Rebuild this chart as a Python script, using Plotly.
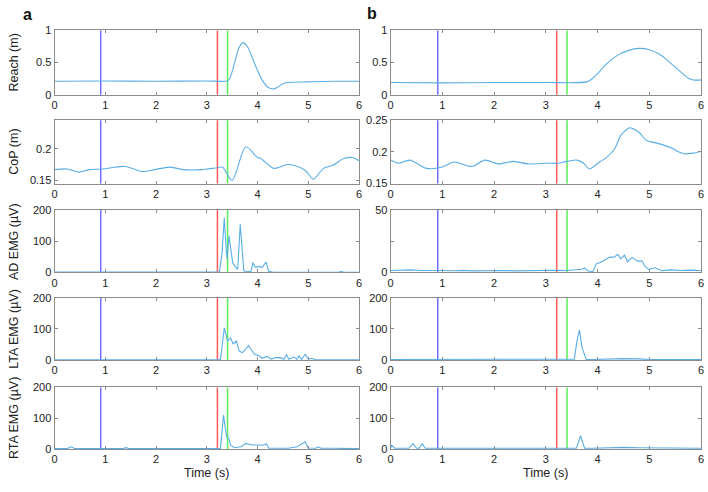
import plotly.graph_objects as go

# ---------------- data ----------------
event_times = [0.91, 3.21, 3.41]
event_colors = ["#6f6fff", "#ff5a5a", "#5aef5a"]

reach_a_t = [0, 1, 2, 3, 3.4, 3.45, 3.55, 3.63, 3.71, 3.8, 3.9, 4.0, 4.1, 4.2, 4.31, 4.4, 4.5, 4.6, 5.0, 5.5, 6.0]
reach_a_v = [0.21, 0.215, 0.21, 0.215, 0.215, 0.25, 0.5, 0.72, 0.81, 0.75, 0.57, 0.38, 0.22, 0.12, 0.09, 0.12, 0.17, 0.19, 0.2, 0.21, 0.21]
reach_b_t = [0, 1, 2, 3, 3.79, 3.9, 4.0, 4.2, 4.4, 4.6, 4.8, 5.0, 5.2, 5.4, 5.6, 5.75, 5.85, 5.93, 6.0]
reach_b_v = [0.19, 0.185, 0.19, 0.19, 0.2, 0.25, 0.33, 0.5, 0.62, 0.69, 0.72, 0.70, 0.63, 0.5, 0.36, 0.26, 0.23, 0.228, 0.232]

cop_a_t = [0, 0.25, 0.48, 0.68, 0.94, 1.39, 1.72, 1.98, 2.27, 2.53, 2.89, 3.22, 3.31, 3.5, 3.77, 4.0, 4.06, 4.32, 4.58, 4.71, 4.94, 5.1, 5.3, 5.49, 5.69, 5.88, 6.0]
cop_a_v = [0.167, 0.168, 0.163, 0.167, 0.168, 0.172, 0.164, 0.167, 0.171, 0.167, 0.167, 0.170, 0.171, 0.150, 0.203, 0.186, 0.185, 0.169, 0.175, 0.174, 0.166, 0.152, 0.169, 0.174, 0.184, 0.186, 0.181]
cop_b_t = [0, 0.15, 0.37, 0.69, 1.0, 1.22, 1.57, 1.82, 2.08, 2.36, 2.65, 3.03, 3.22, 3.41, 3.6, 3.73, 3.84, 4.04, 4.17, 4.33, 4.45, 4.61, 4.67, 4.8, 4.95, 5.18, 5.43, 5.56, 5.68, 5.85, 6.0]
cop_b_v = [0.187, 0.182, 0.187, 0.174, 0.176, 0.184, 0.177, 0.187, 0.181, 0.185, 0.181, 0.182, 0.182, 0.185, 0.187, 0.182, 0.173, 0.184, 0.191, 0.205, 0.226, 0.238, 0.237, 0.231, 0.218, 0.213, 0.206, 0.200, 0.197, 0.198, 0.201]

ad_a_t = [0, 0.5, 1.0, 1.5, 2.0, 2.5, 3.0, 3.25, 3.3, 3.345, 3.38, 3.4, 3.44, 3.48, 3.51, 3.57, 3.61, 3.66, 3.7, 3.73, 3.8, 3.87, 3.91, 3.96, 4.03, 4.09, 4.17, 4.22, 4.3, 4.6, 5.0, 5.5, 5.6, 5.65, 5.7, 6.0]
ad_a_v = [1, 1, 1, 1, 1, 1, 1, 1, 60, 175, 80, 44, 117, 60, 31, 16, 10, 154, 60, 5, 2, 3, 31, 16, 19, 16, 33, 3, 1, 0.5, 0.5, 0.5, 0.5, 3, 0.5, 0.5]
ad_b_t = [0, 0.2, 0.4, 0.6, 0.8, 1.0, 1.2, 1.4, 1.6, 1.8, 2.0, 2.2, 2.4, 2.6, 2.8, 3.0, 3.2, 3.4, 3.6, 3.7, 3.75, 3.8, 3.91, 3.97, 4.04, 4.13, 4.23, 4.33, 4.39, 4.45, 4.52, 4.58, 4.67, 4.77, 4.86, 4.92, 4.99, 5.11, 5.24, 5.4, 5.6, 5.8, 6.0]
ad_b_v = [1.5, 1.8, 2, 1.5, 1.2, 1.5, 1.3, 1.6, 1.2, 1.5, 1.3, 1.5, 1.2, 1.4, 1.3, 1.5, 1.7, 1.5, 1.8, 2.5, 3.5, 1.5, 0.3, 6.6, 7.7, 10, 12, 12.4, 14.5, 11, 13.7, 8.5, 12, 9, 9, 4.5, 2.4, 3.7, 1.3, 2, 1.5, 1.8, 1.5]

lta_a_t = [0, 0.5, 1, 1.5, 2, 2.5, 3, 3.27, 3.345, 3.41, 3.47, 3.52, 3.58, 3.64, 3.7, 3.77, 3.82, 3.88, 3.94, 4.03, 4.09, 4.19, 4.27, 4.35, 4.45, 4.52, 4.57, 4.62, 4.71, 4.78, 4.82, 4.87, 4.94, 5.0, 5.07, 5.14, 5.3, 5.45, 5.5, 5.65, 5.7, 6.0]
lta_a_v = [1, 1, 1, 1, 1, 1, 1, 1, 103, 61, 71, 52, 61, 29, 24, 35, 47, 31, 19, 14, 6, 12, 3, 8, 8, 3, 17, 3, 10, 3, 14, 1, 19, 3, 6, 1, 1, 3, 1, 3, 1, 1]
lta_b_t = [0, 0.5, 1, 1.5, 2, 2.5, 3, 3.5, 3.55, 3.6, 3.65, 3.7, 3.75, 3.78, 3.9, 4.2, 4.5, 4.8, 5.0, 5.5, 6.0]
lta_b_v = [2, 2, 1.5, 2, 1.5, 2, 1.5, 2, 3, 60, 97, 40, 14, 2, 2, 4, 5, 4, 2, 2, 2]

rta_a_t = [0, 0.25, 0.33, 0.4, 1, 1.35, 1.41, 1.47, 2, 2.5, 3, 3.27, 3.33, 3.39, 3.43, 3.47, 3.54, 3.67, 3.77, 3.9, 4.03, 4.1, 4.18, 4.22, 4.4, 4.6, 4.78, 4.94, 5.0, 5.15, 5.2, 5.25, 5.5, 6.0]
rta_a_v = [1, 1, 7, 1, 1, 1, 4, 1, 1, 1, 1, 1, 110, 39, 36, 13, 4, 7, 18, 13, 13, 12, 16, 2, 2, 2, 7, 23, 3, 2, 7, 2, 2, 1]
rta_b_t = [0, 0.02, 0.08, 0.35, 0.43, 0.5, 0.55, 0.61, 0.67, 1, 2, 3, 3.55, 3.59, 3.67, 3.75, 3.9, 4.2, 4.5, 4.8, 5.2, 6.0]
rta_b_v = [3, 12, 2, 2, 17, 2, 2, 17, 2, 2, 2, 2, 2, 2, 43, 2, 2, 4, 5, 4, 3, 2]

row_titles = ["Reach (m)", "CoP (m)", "AD EMG (µV)", "LTA EMG (µV)", "RTA EMG (µV)"]
x_ticks = [0, 1, 2, 3, 4, 5, 6]

panels = [
    # (row, col, t, v, yrange, tickvals, ticktext, smooth)
    (0, 0, reach_a_t, reach_a_v, [0, 1], [0, 0.5, 1], ["0", "0.5", "1"], True),
    (0, 1, reach_b_t, reach_b_v, [0, 1], [0, 0.5, 1], ["0", "0.5", "1"], True),
    (1, 0, cop_a_t, cop_a_v, [0.145, 0.245], [0.15, 0.2], ["0.15", "0.2"], True),
    (1, 1, cop_b_t, cop_b_v, [0.15, 0.25], [0.15, 0.2, 0.25], ["0.15", "0.2", "0.25"], True),
    (2, 0, ad_a_t, ad_a_v, [0, 200], [0, 100, 200], ["0", "100", "200"], False),
    (2, 1, ad_b_t, ad_b_v, [0, 50], [0, 25, 50], ["0", "", "50"], False),
    (3, 0, lta_a_t, lta_a_v, [0, 200], [0, 100, 200], ["0", "100", "200"], False),
    (3, 1, lta_b_t, lta_b_v, [0, 200], [0, 100, 200], ["0", "100", "200"], False),
    (4, 0, rta_a_t, rta_a_v, [0, 200], [0, 100, 200], ["0", "100", "200"], False),
    (4, 1, rta_b_t, rta_b_v, [0, 200], [0, 100, 200], ["0", "100", "200"], False),
]

# ---------------- layout geometry ----------------
W, H = 708, 492
col_px = [(52, 359), (391, 704)]
row_px = [(25, 91), (117, 182), (209, 273), (299, 363), (391, 454)]

FONT = "Liberation Sans, Arial, sans-serif"
line_color = "#5aaee6"
frame_color = "#8c8c8c"

fig = go.Figure()
layout = dict(
    width=W, height=H, margin=dict(l=0, r=0, t=0, b=0),
    paper_bgcolor="white", plot_bgcolor="white",
    showlegend=False, font=dict(family=FONT, size=11, color="#222"),
)
shapes = []
annotations = []

for i, (r, c, t, v, yr, tv, tt, smooth) in enumerate(panels):
    idx = i + 1
    xa = "xaxis" if idx == 1 else f"xaxis{idx}"
    ya = "yaxis" if idx == 1 else f"yaxis{idx}"
    xref = "x" if idx == 1 else f"x{idx}"
    yref = "y" if idx == 1 else f"y{idx}"
    x0, x1 = col_px[c]
    y0, y1 = row_px[r]
    layout[xa] = dict(
        domain=[x0 / W, x1 / W], anchor=yref, range=[0, 6],
        tickvals=x_ticks, ticks="inside", ticklen=3, tickcolor=frame_color,
        showline=True, linecolor=frame_color, linewidth=1, mirror="ticks",
        showgrid=False, zeroline=False, tickfont=dict(size=11, color="#222"),
        ticklabeloverflow="allow",
    )
    layout[ya] = dict(
        domain=[1 - y1 / H, 1 - y0 / H], anchor=xref, range=yr,
        tickvals=tv, ticktext=tt, ticks="inside", ticklen=3, tickcolor=frame_color,
        showline=True, linecolor=frame_color, linewidth=1, mirror="ticks",
        showgrid=False, zeroline=False, tickfont=dict(size=11, color="#222"),
    )
    for et, ec in zip(event_times, event_colors):
        shapes.append(dict(type="line", xref=xref, yref=f"{yref} domain",
                           x0=et, x1=et, y0=0, y1=1,
                           line=dict(color=ec, width=1.5), layer="below"))
    fig.add_trace(go.Scatter(
        x=t, y=v, mode="lines", xaxis=xref, yaxis=yref,
        line=dict(color=line_color, width=1.1,
                  shape="spline" if smooth else "linear",
                  smoothing=0.8 if smooth else None),
        cliponaxis=True, hoverinfo="skip",
    ))
    if c == 0:
        annotations.append(dict(
            text=row_titles[r], xref="paper", yref="paper",
            x=11 / W, y=1 - (y0 + y1) / 2 / H, textangle=-90,
            showarrow=False, xanchor="center", yanchor="middle",
            font=dict(size=12.5, color="#222"),
        ))

# x-axis titles
for c in range(2):
    x0, x1 = col_px[c]
    annotations.append(dict(text="Time (s)", xref="paper", yref="paper",
                            x=(x0 + x1) / 2 / W, y=1 - 479 / H, showarrow=False,
                            xanchor="center", yanchor="middle",
                            font=dict(size=12.5, color="#222")))
# panel letters
annotations.append(dict(text="<b>a</b>", xref="paper", yref="paper", x=25 / W, y=1 - 9 / H,
                        showarrow=False, xanchor="center", yanchor="middle",
                        font=dict(size=16, color="#111")))
annotations.append(dict(text="<b>b</b>", xref="paper", yref="paper", x=372 / W, y=1 - 8 / H,
                        showarrow=False, xanchor="center", yanchor="middle",
                        font=dict(size=16, color="#111")))

layout["shapes"] = shapes
layout["annotations"] = annotations
fig.update_layout(**layout)
fig.write_html(
    "out.html",
    config={"displayModeBar": False, "staticPlot": True},
    post_script="document.body.style.margin='0px';document.body.style.overflow='hidden';"
                "document.documentElement.style.overflow='hidden';",
)
